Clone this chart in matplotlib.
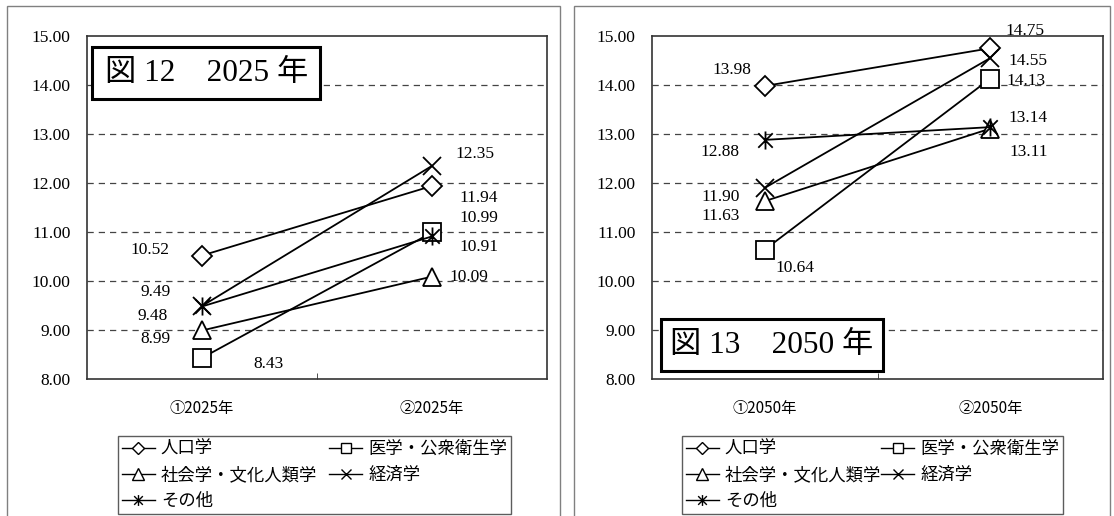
import matplotlib
matplotlib.use("Agg")
import matplotlib.pyplot as plt
from matplotlib.path import Path
from matplotlib.patches import Rectangle
from matplotlib.lines import Line2D

# ---- data -------------------------------------------------------------
series_names = ["人口学", "医学・公衆衛生学", "社会学・文化人類学", "経済学", "その他"]

cats_2025 = ["①2025年", "②2025年"]
cats_2050 = ["①2050年", "②2050年"]

vals_2025 = {
    "人口学": [10.52, 11.94],
    "医学・公衆衛生学": [8.43, 10.99],
    "社会学・文化人類学": [8.99, 10.09],
    "経済学": [9.49, 12.35],
    "その他": [9.48, 10.91],
}
vals_2050 = {
    "人口学": [13.98, 14.75],
    "医学・公衆衛生学": [10.64, 14.13],
    "社会学・文化人類学": [11.63, 13.11],
    "経済学": [11.90, 14.55],
    "その他": [12.88, 13.14],
}

y_ticks = [8, 9, 10, 11, 12, 13, 14, 15]
title_2025 = "図 12\u30002025 年"
title_2050 = "図 13\u30002050 年"

# ---- styling ----------------------------------------------------------
SERIF = ["Liberation Serif", "Noto Sans CJK JP"]
GOTHIC = ["Noto Sans CJK JP", "DejaVu Sans"]
plt.rcParams["font.family"] = GOTHIC

# Excel-style asterisk: an X with a vertical bar
star_path = Path(
    [(-1, -1), (1, 1), (-1, 1), (1, -1), (0, -1.25), (0, 1.25)],
    [Path.MOVETO, Path.LINETO, Path.MOVETO, Path.LINETO, Path.MOVETO, Path.LINETO],
)
markers = {
    "人口学": ("D", 10),
    "医学・公衆衛生学": ("s", 12.5),
    "社会学・文化人類学": ("^", 13.5),
    "経済学": ("x", 13),
    "その他": (star_path, 13),
}

# label offsets (pixels) for each point
offs_2025 = {
    "人口学": [(-52, 6), (47, -12)],
    "医学・公衆衛生学": [(66, -6), (47, 14)],
    "社会学・文化人類学": [(-47, -9), (37, 0)],
    "経済学": [(-46, 14), (43, 12)],
    "その他": [(-49, -10), (47, -11)],
}
offs_2050 = {
    "人口学": [(-33, 16), (35, 17)],
    "医学・公衆衛生学": [(30, -18), (36, -2)],
    "社会学・文化人類学": [(-44, -15), (38, -23)],
    "経済学": [(-44, -9), (38, -3)],
    "その他": [(-45, -12), (38, 9)],
}

W, H = 1114, 516
fig = plt.figure(figsize=(W / 100, H / 100), dpi=100)


def fig_rect(x0, y0, x1, y1):
    """pixel box (top-left origin) -> figure fraction [l, b, w, h]"""
    return [x0 / W, 1 - y1 / H, (x1 - x0) / W, (y1 - y0) / H]


def panel(plot_px, frame_px, cats, vals, offs, title, title_box, legend_xy, colsp):
    # outer chart frame
    fx0, fy0, fx1 = frame_px
    fig.patches.append(Rectangle((fx0 / W, -0.05), (fx1 - fx0) / W, 1.05 - fy0 / H,
                                 transform=fig.transFigure, fill=False,
                                 edgecolor="#808080", lw=1.0))
    ax = fig.add_axes(fig_rect(*plot_px))
    ax.set_xlim(-0.5, 1.5)
    ax.set_ylim(8, 15)
    for s in ax.spines.values():
        s.set_color("#333333")
        s.set_linewidth(1.2)
    ax.set_yticks(y_ticks)
    ax.set_yticklabels([f"{v:.2f}" for v in y_ticks], family=SERIF, fontsize=12.5)
    ax.tick_params(axis="y", length=0, pad=12)
    ax.set_xticks([0, 1])
    ax.set_xticklabels(cats, family=GOTHIC, fontsize=11)
    ax.tick_params(axis="x", length=0, pad=15)
    ax.set_xticks([0.5], minor=True)
    ax.tick_params(axis="x", which="minor", direction="in", length=4, color="#333333")
    for v in y_ticks[1:-1]:
        ax.axhline(v, color="#444444", lw=0.9, dashes=(5, 4), zorder=1)

    for name in series_names:
        m, ms = markers[name]
        ax.plot([0, 1], vals[name], color="black", lw=1.3, marker=m,
                markersize=ms, markerfacecolor="white", markeredgecolor="black",
                markeredgewidth=1.3, zorder=3)
        for i, v in enumerate(vals[name]):
            ax.annotate(f"{v:.2f}", (i, v), xytext=offs[name][i],
                        textcoords="offset pixels", ha="center", va="center",
                        family=SERIF, fontsize=12.5, zorder=4)

    # title box
    bx, by, bw, bh = title_box
    ax.add_patch(Rectangle((bx, by), bw, bh, transform=ax.transAxes,
                           facecolor="white", edgecolor="black", lw=2.2, zorder=5))
    ax.text(bx + bw / 2, by + bh / 2, title, transform=ax.transAxes, ha="center",
            va="center", family=SERIF, fontsize=22.5, zorder=6)

    # legend
    order = ["人口学", "社会学・文化人類学", "その他", "医学・公衆衛生学", "経済学"]
    leg_handles = []
    for name in order:
        m, ms = markers[name]
        leg_handles.append(Line2D([], [], color="black", lw=1.0, marker=m,
                                  markersize=ms * 0.6, markerfacecolor="white",
                                  markeredgecolor="black", markeredgewidth=1.0))
    lx0, ly0 = legend_xy
    leg = ax.legend(leg_handles, order, ncol=2, loc="upper left",
                    bbox_to_anchor=(lx0 / W, 1 - ly0 / H), bbox_transform=fig.transFigure,
                    prop={"family": GOTHIC, "size": 12.5}, frameon=True, fancybox=False,
                    edgecolor="#333333", borderpad=0.22, labelspacing=0.47,
                    handlelength=1.9, handletextpad=0.35, columnspacing=colsp,
                    borderaxespad=0)
    leg.get_frame().set_linewidth(1.0)
    return ax


panel((87, 36, 547, 379), (7, 6, 560), cats_2025, vals_2025, offs_2025, title_2025,
      (0.011, 0.816, 0.496, 0.152), (118, 436), 0.7)
panel((652, 36, 1103, 379), (574, 6, 1110), cats_2050, vals_2050, offs_2050, title_2050,
      (0.02, 0.023, 0.492, 0.152), (682, 436), 0.0)

fig.savefig("out.png", dpi=100, facecolor="white")
